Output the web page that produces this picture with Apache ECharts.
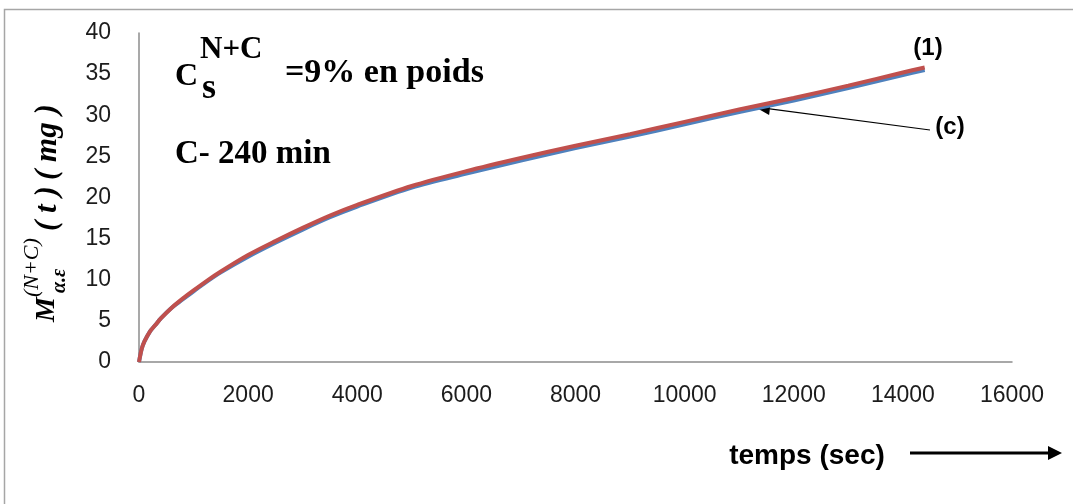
<!DOCTYPE html>
<html><head><meta charset="utf-8">
<script src="https://cdn.jsdelivr.net/npm/echarts@6/dist/echarts.min.js"></script>
<style>html,body{margin:0;padding:0;background:#fff}#c{width:1073px;height:504px}</style>
</head><body><div id="c"></div>
<script>
// time in seconds
const times  = [0, 50, 100, 200, 300, 400, 600, 800, 1000, 1250, 1500, 2000, 2500, 3000, 3500, 4000, 5000, 6000, 7000, 8000, 9000, 10000, 11000, 12000, 13000, 14000, 14400];
// curve (1), mg
const curve1 = [0, 1.6, 2.5, 3.7, 4.5, 5.3, 6.6, 7.7, 8.7, 9.9, 11.0, 13.0, 14.7, 16.3, 17.8, 19.1, 21.4, 23.2, 24.8, 26.3, 27.7, 29.2, 30.7, 32.1, 33.6, 35.2, 35.8];
// curve (c), mg
const curveC = [0, 1.6, 2.5, 3.7, 4.5, 5.3, 6.6, 7.6, 8.6, 9.8, 10.9, 12.8, 14.5, 16.1, 17.6, 18.9, 21.2, 22.9, 24.5, 26.0, 27.4, 28.9, 30.4, 31.8, 33.3, 34.9, 35.5];
const xAxisRange = [0, 16000, 2000];
const yAxisRange = [0, 40, 5];

const pairs = (xs, ys) => xs.map((x, i) => [x, ys[i]]);
const chart = echarts.init(document.getElementById('c'), null, {renderer: 'canvas'});

const serifB = '"Liberation Serif","Times New Roman",serif';
const sans = '"Liberation Sans",Arial,sans-serif';
const lblColor = '#1c1c1c';
const axisColor = '#8c8c8c';

function arrow(x1, y1, x2, y2, lw, hl, hw) {
  const a = Math.atan2(y2 - y1, x2 - x1);
  const bx = x2 - hl * Math.cos(a), by = y2 - hl * Math.sin(a);
  const px = -Math.sin(a) * hw, py = Math.cos(a) * hw;
  return [
    {type: 'line', shape: {x1: x1, y1: y1, x2: bx, y2: by}, style: {stroke: '#000', lineWidth: lw}, silent: true},
    {type: 'polygon', shape: {points: [[x2, y2], [bx + px, by + py], [bx - px, by - py]]}, style: {fill: '#000'}, silent: true}
  ];
}

const option = {
  animation: false,
  backgroundColor: '#fff',
  grid: {left: 139, top: 33, right: 61, bottom: 142, containLabel: false},
  xAxis: {
    type: 'value', min: xAxisRange[0], max: xAxisRange[1], interval: xAxisRange[2],
    axisLine: {show: true, lineStyle: {color: axisColor, width: 1.5}},
    axisTick: {show: false}, splitLine: {show: false},
    axisLabel: {color: lblColor, fontFamily: sans, fontSize: 23, margin: 22, formatter: v => String(v)}
  },
  yAxis: {
    type: 'value', min: yAxisRange[0], max: yAxisRange[1], interval: yAxisRange[2],
    axisLine: {show: true, lineStyle: {color: axisColor, width: 1.5}},
    axisTick: {show: false}, splitLine: {show: false},
    axisLabel: {color: lblColor, fontFamily: sans, fontSize: 23, margin: 28, formatter: v => String(v)}
  },
  series: [
    {name: '(c)', type: 'line', data: pairs(times, curveC), smooth: 0.3, showSymbol: false,
     lineStyle: {color: '#4F81BD', width: 4}, z: 2},
    {name: '(1)', type: 'line', data: pairs(times, curve1), smooth: 0.3, showSymbol: false,
     lineStyle: {color: '#C0504D', width: 4}, z: 3}
  ],
  graphic: [
    {type: 'rect', shape: {x: 4.5, y: 9.5, width: 1100, height: 600}, style: {fill: 'none', stroke: '#a6a6a6', lineWidth: 1.5}, silent: true, z: 0},
    // y-axis title, rotated
    {type: 'group', x: 47, y: 322, rotation: Math.PI / 2, silent: true, children: [
      {type: 'text', x: 0, y: 0, style: {text: 'M', font: 'italic bold 28px ' + serifB, fill: '#000', verticalAlign: 'middle', align: 'left'}},
      {type: 'text', x: 25, y: -15, style: {text: '(N+C)', font: 'italic 22px ' + serifB, fill: '#000', verticalAlign: 'middle', align: 'left'}},
      {type: 'text', x: 29, y: 13, style: {text: 'α.ε', font: 'italic bold 20px ' + serifB, fill: '#000', verticalAlign: 'middle', align: 'left'}},
      {type: 'text', x: 91, y: 1, style: {text: '( t )', font: 'italic bold 31px ' + serifB, fill: '#000', verticalAlign: 'middle', align: 'left'}},
      {type: 'text', x: 142, y: 1, style: {text: '( mg )', font: 'italic bold 31px ' + serifB, fill: '#000', verticalAlign: 'middle', align: 'left'}}
    ]},
    // C_s^{N+C} = 9% en poids
    {type: 'text', x: 175, y: 77, style: {text: 'C', font: 'bold 32px ' + serifB, fill: '#000', verticalAlign: 'middle'}, silent: true},
    {type: 'text', x: 200, y: 50, style: {text: 'N+C', font: 'bold 31px ' + serifB, fill: '#000', verticalAlign: 'middle'}, silent: true},
    {type: 'text', x: 202, y: 89, style: {text: 's', font: 'bold 36px ' + serifB, fill: '#000', verticalAlign: 'middle'}, silent: true},
    {type: 'text', x: 285, y: 73, style: {text: '=9% en poids', font: 'bold 34px ' + serifB, fill: '#000', verticalAlign: 'middle'}, silent: true},
    {type: 'text', x: 175, y: 154, style: {text: 'C- 240 min', font: 'bold 33px ' + serifB, fill: '#000', verticalAlign: 'middle'}, silent: true},
    // curve labels
    {type: 'text', x: 928, y: 48, style: {text: '(1)', font: 'bold 24px ' + sans, fill: '#000', verticalAlign: 'middle', align: 'center'}, silent: true},
    {type: 'text', x: 950, y: 127, style: {text: '(c)', font: 'bold 24px ' + sans, fill: '#000', verticalAlign: 'middle', align: 'center'}, silent: true},
    ...arrow(930, 130, 755, 107, 1.2, 15, 6),
    // x-axis title and arrow
    {type: 'text', x: 807, y: 456, style: {text: 'temps (sec)', font: 'bold 28px ' + sans, fill: '#000', verticalAlign: 'middle', align: 'center'}, silent: true},
    ...arrow(910, 453, 1062, 453, 3, 14, 7)
  ]
};
chart.setOption(option);
</script>
</body></html>
